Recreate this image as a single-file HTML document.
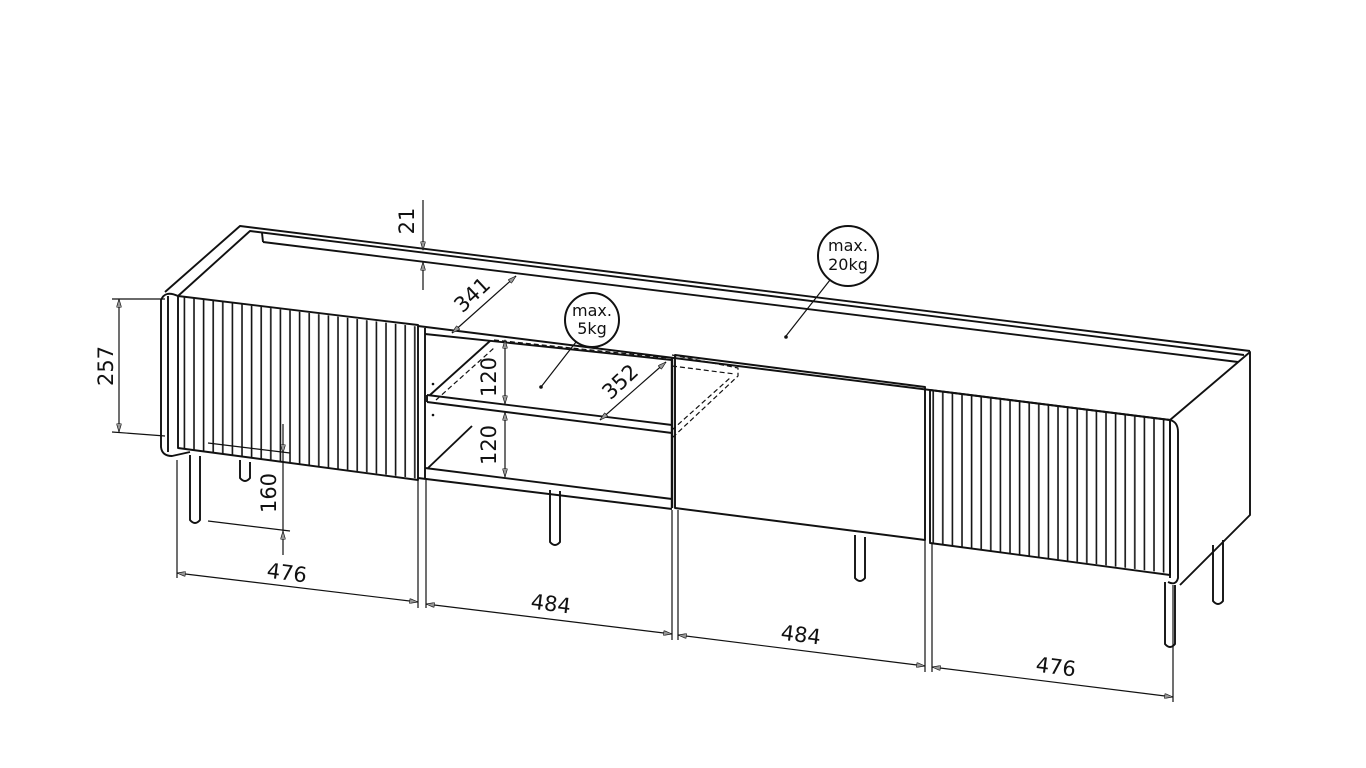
<!DOCTYPE html>
<html><head><meta charset="utf-8"><style>
html,body{margin:0;padding:0;background:#fff}
svg{display:block}
text{font-family:"DejaVu Sans","Liberation Sans",sans-serif;fill:#111}
</style></head><body>
<svg width="1366" height="768" viewBox="0 0 1366 768" xmlns="http://www.w3.org/2000/svg">
<defs>
<pattern id="fl" x="0" y="0" width="9.6" height="10" patternUnits="userSpaceOnUse">
<line x1="2" y1="0" x2="2" y2="10" stroke="#111" stroke-width="1.6"/>
</pattern>
<marker id="a" viewBox="0 0 10 6" refX="10" refY="3" markerWidth="9" markerHeight="5" orient="auto-start-reverse" markerUnits="userSpaceOnUse"><path d="M0,0 L10,3 L0,6 z" fill="#999" stroke="#111" stroke-width="0.8"/></marker>
</defs>
<g fill="none" stroke="#111" stroke-width="1.9" stroke-linejoin="round">
<polyline points="165,292 240,226 1250,351"/>
<polyline points="178,296 250,231 1244,355"/>
<line x1="263" y1="242" x2="1238" y2="362"/>
<line x1="263" y1="242" x2="262" y2="233"/>
<line x1="418" y1="326" x2="1170" y2="420"/>
<path d="M178,296 Q165,290 161,300 L161,447 Q162,456 172,456 L190,452"/>
<line x1="168" y1="296" x2="168" y2="452"/>
<path d="M1170,420 L1250,352 L1250,515 L1180,585"/>
<path d="M1170,420 Q1178,422 1178,432 L1178,578 Q1176,586 1168,582"/>
<line x1="1170" y1="420" x2="1170" y2="578"/>
<polygon points="178,296 418,325 418,480 178,448"/>
<line x1="425" y1="328" x2="425" y2="478"/>
<line x1="418" y1="478" x2="672" y2="509"/>
<line x1="425" y1="468" x2="672" y2="499"/>
<line x1="425" y1="334" x2="672" y2="360"/>
<line x1="427" y1="395" x2="672" y2="425"/>
<line x1="427" y1="402" x2="672" y2="433"/>
<line x1="427" y1="395" x2="427" y2="402"/>
<line x1="430" y1="395" x2="490" y2="341"/>
<line x1="428" y1="468" x2="472" y2="426"/>
<line x1="672" y1="358" x2="672" y2="508" stroke-width="2.4"/>
<path d="M436,400 L494,348 M494,340 L668,358 M672,355 L738,368 L738,376 L672,438 M672,366 L735,374 M672,430 L730,378" stroke-dasharray="5,3" stroke-width="1.2"/>
<polygon points="675,355 925,387 925,540 675,508"/>
<polygon points="930,390 1170,420 1170,575 930,543"/>
<path d="M190,455 L190,520 Q195,526 200,520 L200,456"/>
<path d="M240,460 L240,478 Q245,484 250,478 L250,462"/>
<path d="M550,490 L550,542 Q555,548 560,542 L560,491"/>
<path d="M855,535 L855,578 Q860,584 865,578 L865,537"/>
<path d="M1165,582 L1165,644 Q1170,650 1175,644 L1175,585"/>
<path d="M1213,545 L1213,601 Q1218,607 1223,601 L1223,540"/>
</g>
<g transform="matrix(1,0.126,0,1,0,0)">
<rect x="180" y="274" width="238" height="152" fill="url(#fl)"/>
<rect x="932" y="273" width="237" height="153" fill="url(#fl)"/>
</g>
<g fill="none" stroke="#111" stroke-width="1.2">
<line x1="177" y1="460" x2="177" y2="578"/>
<line x1="418" y1="480" x2="418" y2="608"/>
<line x1="426" y1="480" x2="426" y2="608"/>
<line x1="672" y1="510" x2="672" y2="640"/>
<line x1="678" y1="510" x2="678" y2="640"/>
<line x1="925" y1="540" x2="925" y2="672"/>
<line x1="932" y1="543" x2="932" y2="672"/>
<line x1="1173" y1="585" x2="1173" y2="702"/>
<line x1="177" y1="573" x2="418" y2="602" marker-start="url(#a)" marker-end="url(#a)"/>
<line x1="426" y1="604" x2="672" y2="634" marker-start="url(#a)" marker-end="url(#a)"/>
<line x1="678" y1="635" x2="925" y2="666" marker-start="url(#a)" marker-end="url(#a)"/>
<line x1="932" y1="667" x2="1173" y2="697" marker-start="url(#a)" marker-end="url(#a)"/>
<line x1="112" y1="299" x2="165" y2="299"/>
<line x1="112" y1="432" x2="165" y2="436"/>
<line x1="119" y1="299" x2="119" y2="432" marker-start="url(#a)" marker-end="url(#a)"/>
<line x1="208" y1="443" x2="290" y2="453"/>
<line x1="208" y1="521" x2="290" y2="531"/>
<line x1="283" y1="424" x2="283" y2="453" marker-end="url(#a)"/>
<line x1="283" y1="555" x2="283" y2="531" marker-end="url(#a)"/>
<line x1="283" y1="453" x2="283" y2="531"/>
<line x1="423" y1="200" x2="423" y2="250" marker-end="url(#a)"/>
<line x1="423" y1="290" x2="423" y2="262" marker-end="url(#a)"/>
<line x1="516" y1="276" x2="452" y2="333" marker-start="url(#a)" marker-end="url(#a)"/>
<line x1="666" y1="362" x2="600" y2="420" marker-start="url(#a)" marker-end="url(#a)"/>
<line x1="505" y1="340" x2="505" y2="404" marker-start="url(#a)" marker-end="url(#a)"/>
<line x1="505" y1="412" x2="505" y2="477" marker-start="url(#a)" marker-end="url(#a)"/>
<circle cx="592" cy="320" r="27" stroke-width="2"/>
<line x1="576" y1="342" x2="541" y2="387"/>
<circle cx="848" cy="256" r="30" stroke-width="2"/>
<line x1="830" y1="280" x2="786" y2="336"/>
</g>
<circle cx="541" cy="387" r="1.8" fill="#111"/>
<circle cx="786" cy="337" r="1.8" fill="#111"/>
<circle cx="433" cy="384" r="1.3" fill="#111"/>
<circle cx="433" cy="415" r="1.3" fill="#111"/>
<g font-size="21">
<text x="286" y="580" text-anchor="middle" transform="rotate(7 286 580)">476</text>
<text x="550" y="611" text-anchor="middle" transform="rotate(7 550 611)">484</text>
<text x="800" y="642" text-anchor="middle" transform="rotate(7 800 642)">484</text>
<text x="1055" y="674" text-anchor="middle" transform="rotate(7 1055 674)">476</text>
<text x="113" y="366" text-anchor="middle" transform="rotate(-90 113 366)">257</text>
<text x="276" y="493" text-anchor="middle" transform="rotate(-90 276 493)">160</text>
<text x="414" y="221" text-anchor="middle" transform="rotate(-90 414 221)">21</text>
<text x="496" y="377" text-anchor="middle" transform="rotate(-90 496 377)">120</text>
<text x="496" y="445" text-anchor="middle" transform="rotate(-90 496 445)">120</text>
<text x="477" y="300" text-anchor="middle" transform="rotate(-43 477 300)">341</text>
<text x="625" y="387" text-anchor="middle" transform="rotate(-43 625 387)">352</text>
</g>
<g font-size="16" text-anchor="middle">
<text x="592" y="316">max.</text><text x="592" y="334">5kg</text>
<text x="848" y="251">max.</text><text x="848" y="270">20kg</text>
</g>
</svg>
</body></html>
